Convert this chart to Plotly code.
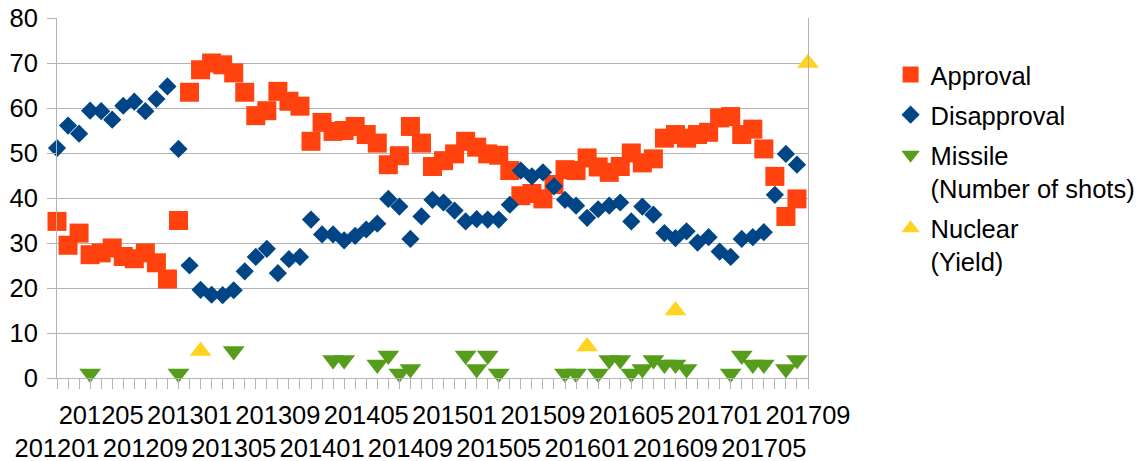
import plotly.graph_objects as go

months = [
    "201201", "201202", "201203", "201204", "201205", "201206", "201207", "201208", "201209", "201210", "201211", "201212",
    "201301", "201302", "201303", "201304", "201305", "201306", "201307", "201308", "201309", "201310", "201311", "201312",
    "201401", "201402", "201403", "201404", "201405", "201406", "201407", "201408", "201409", "201410", "201411", "201412",
    "201501", "201502", "201503", "201504", "201505", "201506", "201507", "201508", "201509", "201510", "201511", "201512",
    "201601", "201602", "201603", "201604", "201605", "201606", "201607", "201608", "201609", "201610", "201611", "201612",
    "201701", "201702", "201703", "201704", "201705", "201706", "201707", "201708", "201709",
]

approval = [
    34.8, 29.5, 32.2, 27.4, 27.8, 28.9, 27.0, 26.5, 27.8, 25.6, 22.0, 35.0,
    63.5, 68.5, 70.0, 69.6, 67.8, 63.5, 58.3, 59.4, 63.7, 61.5, 60.4, 52.6,
    56.8, 54.8, 55.0, 55.9, 54.1, 52.2, 47.4, 49.4, 55.9, 52.2, 47.0, 48.3,
    49.8, 52.6, 51.3, 49.8, 49.5, 46.1, 40.5, 41.0, 39.8, 43.0, 46.3, 46.1,
    48.9, 46.9, 45.7, 47.0, 50.0, 47.8, 48.7, 53.3, 54.1, 53.3, 54.1, 54.6,
    57.8, 58.1, 54.1, 55.3, 50.9, 44.8, 35.9, 39.8, None,
]

disapproval = [
    51.1, 56.1, 54.3, 59.4, 59.3, 57.4, 60.5, 61.4, 59.3, 62.0, 64.8, 50.9,
    25.0, 19.6, 18.5, 18.4, 19.5, 23.7, 26.9, 28.7, 23.3, 26.4, 26.9, 35.2,
    31.9, 31.9, 30.6, 31.6, 33.0, 34.3, 39.8, 38.1, 30.9, 35.9, 39.6, 39.0,
    37.2, 34.8, 35.3, 35.2, 35.2, 38.5, 46.1, 44.8, 45.7, 42.6, 39.6, 38.3,
    35.6, 37.5, 38.3, 39.0, 34.8, 38.1, 36.3, 32.2, 31.1, 32.6, 30.1, 31.3,
    28.1, 26.9, 30.9, 31.3, 32.4, 40.7, 49.8, 47.4, None,
]

missile = [
    None, None, None, 1, None, None, None, None, None, None, None, 1,
    None, None, None, None, 6, None, None, None, None, None, None, None,
    None, 4, 4, None, None, 3, 5, 1, 2, None, None, None,
    None, 5, 2, 5, 1, None, None, None, None, None, 1, 1,
    None, 1, 4, 4, 1, 2, 4, 3, 3, 2, None, None,
    None, 1, 5, 3, 3, None, 2, 4, None,
]

nuclear = [
    None, None, None, None, None, None, None, None, None, None, None, None,
    None, 6, None, None, None, None, None, None, None, None, None, None,
    None, None, None, None, None, None, None, None, None, None, None, None,
    None, None, None, None, None, None, None, None, None, None, None, None,
    7, None, None, None, None, None, None, None, 15, None, None, None,
    None, None, None, None, None, None, None, None, 70,
]

# tick labels: every 4th month, alternating between two rows
tick_text = []
for i, m in enumerate(months):
    if i % 8 == 0:
        tick_text.append("<br>" + m)
    elif i % 8 == 4:
        tick_text.append(m)
    else:
        tick_text.append("")

FONT = "Liberation Sans, Arial, sans-serif"
GRID = "#b3b3b3"

fig = go.Figure()
fig.add_trace(go.Scatter(x=months, y=approval, mode="markers", name="Approval", legendgroup="a",
                         marker=dict(symbol="square", size=19, color="#ff420e"),
                         cliponaxis=False))
fig.add_trace(go.Scatter(x=months, y=disapproval, mode="markers", name="Disapproval", legendgroup="d",
                         marker=dict(symbol="diamond", size=14, color="#004586"),
                         cliponaxis=False))
fig.add_trace(go.Scatter(x=months, y=missile, mode="markers", name="Missile<br>(Number of shots)",
                         legendgroup="m",
                         marker=dict(symbol="triangle-down", size=19, color="#579d1c"),
                         cliponaxis=False))
fig.add_trace(go.Scatter(x=months, y=nuclear, mode="markers", name="Nuclear<br>(Yield)",
                         legendgroup="n",
                         marker=dict(symbol="triangle-up", size=19, color="#ffd320"),
                         cliponaxis=False))

fig.update_layout(
    width=1146, height=461,
    margin=dict(l=57, r=338, t=18, b=83, autoexpand=False),
    paper_bgcolor="white", plot_bgcolor="white",
    font=dict(family=FONT, size=25.5, color="black"),
    showlegend=True,
    legend=dict(x=1.11, xanchor="left", y=0.907, yanchor="top",
                font=dict(family=FONT, size=25.5, color="black"),
                valign="top", tracegroupgap=4, traceorder="grouped",
                bgcolor="rgba(0,0,0,0)"),
    xaxis=dict(type="category", categoryorder="array", categoryarray=months,
               range=[0, len(months) - 1], automargin=False,
               tickmode="array", tickvals=months, ticktext=tick_text, tickangle=0,
               ticks="outside", ticklen=10, tickcolor=GRID, tickwidth=1,
               showline=True, linecolor=GRID, linewidth=1,
               showgrid=False, zeroline=False, ticklabelstandoff=4),
    yaxis=dict(range=[0, 80], dtick=10, tick0=0, automargin=False,
               ticks="outside", ticklen=9, tickcolor=GRID, tickwidth=1,
               showline=True, linecolor=GRID, linewidth=1, mirror=True,
               showgrid=True, gridcolor=GRID, gridwidth=1,
               zeroline=False, ticklabelstandoff=4),
)

fig.write_html("out.html", config={"displayModeBar": False},
               post_script="document.body.style.margin='0px';document.body.style.overflow='hidden';")
